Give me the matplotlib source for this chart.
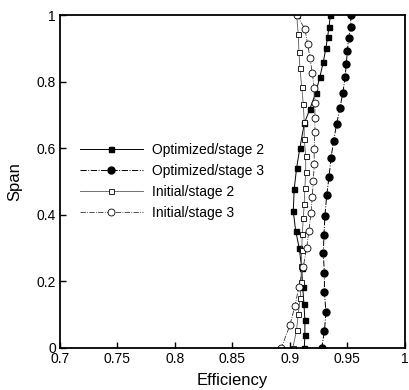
import matplotlib

matplotlib.use("Agg")
import matplotlib.pyplot as plt

plt.rcParams["font.family"] = ["Liberation Sans", "DejaVu Sans"]

# --- datos ---
span_opt2 = [1.0, 0.965, 0.935, 0.901, 0.859, 0.815, 0.766, 0.718, 0.676, 0.602,
             0.541, 0.477, 0.411, 0.351, 0.300, 0.240, 0.183, 0.132, 0.084, 0.039, 0.0]
eff_opt2 = [0.9352, 0.934, 0.9328, 0.9313, 0.929, 0.9261, 0.9224, 0.9174, 0.9126, 0.9087,
            0.9058, 0.9037, 0.9029, 0.905, 0.9081, 0.9102, 0.9111, 0.9122, 0.913, 0.913, 0.9125]

span_opt3 = [1.0, 0.964, 0.931, 0.892, 0.853, 0.814, 0.766, 0.721, 0.673, 0.622, 0.571,
             0.514, 0.459, 0.396, 0.339, 0.285, 0.225, 0.168, 0.108, 0.051, 0.0]
eff_opt3 = [0.9528, 0.953, 0.951, 0.950, 0.949, 0.948, 0.946, 0.9435, 0.9406, 0.938, 0.9357,
            0.934, 0.932, 0.9304, 0.9296, 0.929, 0.930, 0.930, 0.9313, 0.930, 0.9276]

span_ini2 = [1.0, 0.943, 0.890, 0.841, 0.785, 0.733, 0.680, 0.628, 0.577, 0.529, 0.481,
             0.432, 0.390, 0.342, 0.294, 0.246, 0.198, 0.150, 0.102, 0.054, 0.0]
eff_ini2 = [0.9058, 0.9072, 0.9078, 0.9087, 0.9102, 0.9116, 0.9124, 0.9124, 0.9137, 0.9137,
            0.913, 0.9124, 0.9116, 0.9107, 0.9102, 0.9099, 0.9096, 0.909, 0.9072, 0.9058, 0.9025]

span_ini3 = [1.0, 0.958, 0.913, 0.871, 0.826, 0.781, 0.736, 0.691, 0.649, 0.598, 0.553,
             0.502, 0.454, 0.405, 0.351, 0.300, 0.243, 0.183, 0.126, 0.069, 0.0]
eff_ini3 = [0.9058, 0.913, 0.9154, 0.9174, 0.9194, 0.9211, 0.9217, 0.9217, 0.9217, 0.9211,
            0.9211, 0.9203, 0.9194, 0.9183, 0.9165, 0.9145, 0.9116, 0.9078, 0.9043, 0.900, 0.8925]

x_ticks = [0.7, 0.75, 0.8, 0.85, 0.9, 0.95, 1.0]
x_labels = ["0.7", "0.75", "0.8", "0.85", "0.9", "0.95", "1"]
y_ticks = [0, 0.2, 0.4, 0.6, 0.8, 1.0]
y_labels = ["0", "0.2", "0.4", "0.6", "0.8", "1"]

fig = plt.figure(figsize=(4.09, 3.90), dpi=100)
ax = fig.add_axes([0.1467, 0.1077, 0.8433, 0.8538])

ax.plot(eff_opt2, span_opt2, color="black", lw=0.7, ls="-", marker="s", ms=3.6,
        mfc="black", mec="black", label="Optimized/stage 2")
ax.plot(eff_opt3, span_opt3, color="black", lw=0.7, ls="-.", marker="o", ms=5,
        mfc="black", mec="black", label="Optimized/stage 3")
ax.plot(eff_ini2, span_ini2, color="0.35", lw=0.6, ls="-", marker="s", ms=3.6,
        mfc="white", mec="black", mew=0.6, label="Initial/stage 2")
ax.plot(eff_ini3, span_ini3, color="0.2", lw=0.6, ls="-.", marker="o", ms=5,
        mfc="white", mec="black", mew=0.6, label="Initial/stage 3")

ax.set_xlim(0.7, 1.0)
ax.set_ylim(0, 1.0)
ax.set_xticks(x_ticks)
ax.set_xticklabels(x_labels)
ax.set_yticks(y_ticks)
ax.set_yticklabels(y_labels)
ax.tick_params(direction="in", length=4, width=1, labelsize=10, pad=3)
for s in ax.spines.values():
    s.set_linewidth(1.3)

ax.set_xlabel("Efficiency", fontsize=12, labelpad=5)
ax.set_ylabel("Span", fontsize=12, labelpad=10)

ax.legend(loc="center left", bbox_to_anchor=(0.058, 0.5), frameon=False, fontsize=10,
          handlelength=4.5, handletextpad=0.7, labelspacing=0.5, borderaxespad=0,
          borderpad=0)

fig.savefig("out.png", dpi=100)
